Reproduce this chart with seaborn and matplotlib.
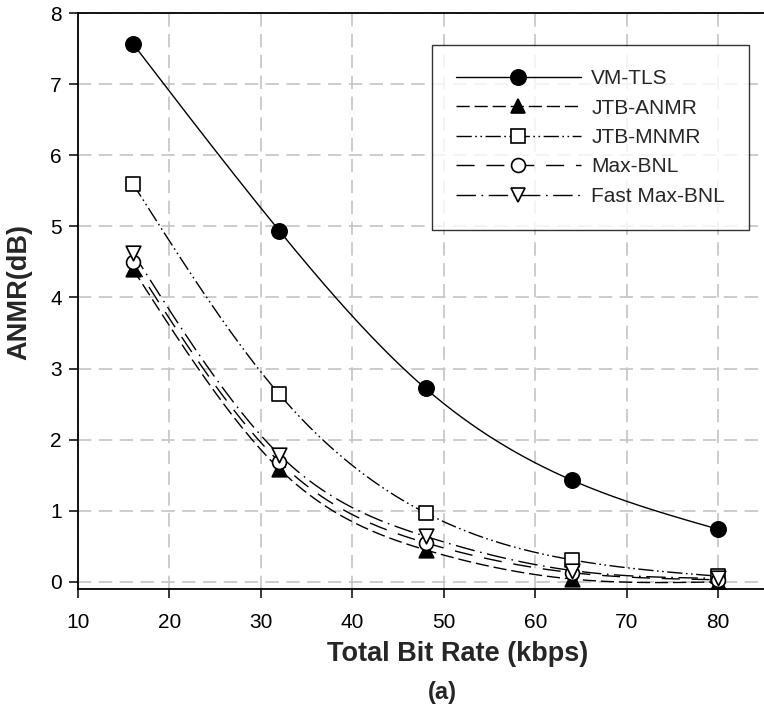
import numpy as np
import pandas as pd
import matplotlib
matplotlib.use("Agg")
import matplotlib.pyplot as plt
import seaborn as sns
from matplotlib.lines import Line2D

rates = [16, 32, 48, 64, 80]
vm_tls = [7.57, 4.94, 2.72, 1.43, 0.74]
jtb_anmr = [4.40, 1.59, 0.45, 0.04, 0.00]
jtb_mnmr = [5.60, 2.64, 0.97, 0.31, 0.08]
max_bnl = [4.50, 1.69, 0.55, 0.13, 0.03]
fast_max_bnl = [4.63, 1.79, 0.64, 0.16, 0.05]
series_names = ["VM-TLS", "JTB-ANMR", "JTB-MNMR", "Max-BNL", "Fast Max-BNL"]
x_ticks = [10, 20, 30, 40, 50, 60, 70, 80]
y_ticks = [0, 1, 2, 3, 4, 5, 6, 7, 8]


def natural_spline(x, y, n=200):
    x = np.asarray(x, float); y = np.asarray(y, float)
    k = len(x); h = np.diff(x)
    A = np.zeros((k, k)); b = np.zeros(k)
    A[0, 0] = A[-1, -1] = 1
    for i in range(1, k - 1):
        A[i, i - 1] = h[i - 1]; A[i, i] = 2 * (h[i - 1] + h[i]); A[i, i + 1] = h[i]
        b[i] = 3 * ((y[i + 1] - y[i]) / h[i] - (y[i] - y[i - 1]) / h[i - 1])
    c = np.linalg.solve(A, b)
    xs = np.linspace(x[0], x[-1], n); ys = np.empty_like(xs)
    for j, xv in enumerate(xs):
        i = min(np.searchsorted(x, xv, side="right") - 1, k - 2)
        d = xv - x[i]
        bi = (y[i + 1] - y[i]) / h[i] - h[i] * (2 * c[i] + c[i + 1]) / 3
        di = (c[i + 1] - c[i]) / (3 * h[i])
        ys[j] = y[i] + bi * d + c[i] * d ** 2 + di * d ** 3
    return xs, ys


sns.set_theme(style="white")
plt.rcParams["font.family"] = ["Liberation Sans", "DejaVu Sans"]

fig = plt.figure(figsize=(7.64, 7.11), dpi=100)
ax = fig.add_axes([0.102, 0.1716, 0.898, 0.8101])

values = [vm_tls, jtb_anmr, jtb_mnmr, max_bnl, fast_max_bnl]
dashes = [(None, None), (9.5, 3.5), (11, 2.5, 1.2, 2.5, 1.2, 2.5), (13, 8.5), (14, 4, 1.2, 4)]
markers = ["o", "^", "s", "o", "v"]
faces = ["black", "black", "white", "white", "white"]
msizes = [11, 10.5, 9.5, 10, 10.5]

handles = []
for name, vals, ds, mk, fc, ms in zip(series_names, values, dashes, markers, faces, msizes):
    xs, ys = natural_spline(rates, vals)
    df = pd.DataFrame({"x": xs, "y": ys})
    sns.lineplot(data=df, x="x", y="y", ax=ax, color="black", lw=1.0, zorder=3)
    ln = ax.lines[-1]
    if ds[0] is not None:
        ln.set_dashes(ds)
    pts = pd.DataFrame({"x": rates, "y": vals})
    sns.scatterplot(data=pts, x="x", y="y", ax=ax, marker=mk, s=ms ** 2,
                    facecolor=fc, edgecolor="black", linewidth=1.2, zorder=4)
    h = Line2D([0], [0], color="black", lw=1.0, marker=mk, markersize=ms,
               markerfacecolor=fc, markeredgecolor="black", markeredgewidth=1.2)
    if ds[0] is not None:
        h.set_dashes(ds)
    handles.append(h)

ax.set_xlim(10, 85)
ax.set_ylim(-0.1, 8)
ax.set_xticks(x_ticks)
ax.set_yticks(y_ticks)
ax.set_xticklabels([str(t) for t in x_ticks], fontsize=15)
ax.set_yticklabels([str(t) for t in y_ticks], fontsize=15)
ax.grid(True, color="#c4c4c4", linestyle=(0, (8, 4.5)), linewidth=1.2, zorder=0)
ax.set_axisbelow(True)
for s in ["left", "bottom", "top"]:
    ax.spines[s].set_color("black")
    ax.spines[s].set_linewidth(1.3)
ax.spines["right"].set_visible(False)
ax.tick_params(axis="both", direction="out", length=6.5, width=1.1, color="black",
               bottom=True, left=True, labelcolor="black")
ax.tick_params(axis="x", pad=11)
ax.tick_params(axis="y", pad=5)

ax.set_xlabel("Total Bit Rate (kbps)", fontsize=19.5, fontweight="bold")
ax.xaxis.label.set_va("center")
ax.xaxis.set_label_coords(0.554, -0.112)
ax.set_ylabel("ANMR(dB)", fontsize=19.5, fontweight="bold")
ax.yaxis.label.set_va("center")
ax.yaxis.set_label_coords(-0.085, 0.516)
fig.text(442 / 764, 1 - 692 / 711, "(a)", fontsize=17, fontweight="bold",
         ha="center", va="center")

leg = ax.legend(handles, series_names, loc="upper left", bbox_to_anchor=(0.516, 0.944),
                fontsize=15, handlelength=6.0, handletextpad=0.5, labelspacing=0.5,
                borderpad=1.15, frameon=True, fancybox=False, edgecolor="black",
                borderaxespad=0)
leg.get_frame().set_linewidth(1.0)
leg.set_zorder(10)

fig.savefig("out.png", dpi=100)
